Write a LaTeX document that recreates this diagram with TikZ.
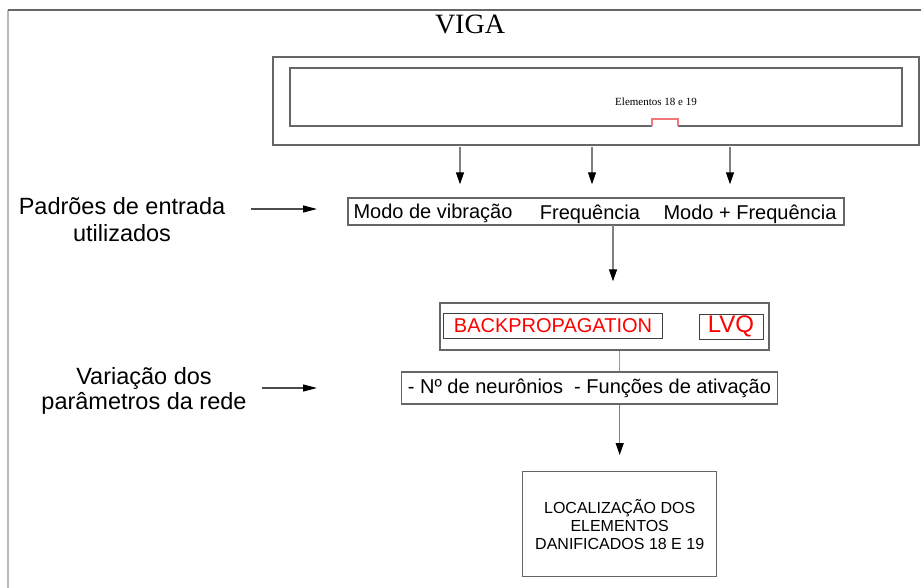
\documentclass[tikz,border=0pt]{standalone}
\usepackage{fontspec}
\setmainfont{Liberation Serif}
\setsansfont{Liberation Sans}
\usetikzlibrary{arrows.meta,positioning}
\definecolor{linegray}{HTML}{666666}
\definecolor{notchred}{HTML}{F07878}

\begin{document}
\begin{tikzpicture}[
  x=1pt, y=-1pt,
  box/.style={draw=linegray, line width=1.4pt, inner sep=0pt},
  inbox/.style={draw=black!75, line width=1pt, inner sep=0pt},
  txt/.style={font=\sffamily\fontsize{20}{22}\selectfont, inner sep=0pt},
  side/.style={font=\sffamily\fontsize{23.5}{26}\selectfont, align=center, inner sep=0pt},
  redtxt/.style={text=red, font=\sffamily\fontsize{20}{22}\selectfont},
  arr/.style={-{Triangle[length=12pt,width=8pt,black]}, draw=gray, line width=1.3pt},
  sarr/.style={-{Triangle[length=14pt,width=7pt,black]}, draw=black!70, line width=1.3pt},
  link/.style={draw=gray!80, line width=1.3pt}
]
\useasboundingbox (0,0) rectangle (921,588);

% outer frame
\draw[draw=gray!55, line width=2pt] (8,10) -- (8,588);
\draw[draw=black!60, line width=2pt] (8,10) -- (921,10);

\node[font=\fontsize{28}{30}\selectfont] (title) at (470,24) {VIGA};

% beam
\node[box, minimum width=646, minimum height=88] (beam) at (596,101) {};
\draw[box] (652,126) -| (290,68) -| (902,126) -- (678,126);
\draw[draw=notchred, line width=1.4pt] (652,126) |- (678,119) -- (678,126);
\node[font=\fontsize{11}{12}\selectfont, inner sep=0pt] (elem) at (656,102) {Elementos 18 e 19};

% input patterns
\node[box, minimum width=496, minimum height=27] (padroes) at (596,211.5) {};
\node[txt] (modo) at (433,213) {Modo de vibração};
\node[txt] (freq) at (590,214) {Frequência};
\node[txt] (ambos) at (750,214) {Modo + Frequência};
\node[side, font=\sffamily\fontsize{23.5}{27}\selectfont] (pad) at (122,220) {Padrões de entrada\\utilizados};

% networks
\node[box, minimum width=329, minimum height=47] (redes) at (604.5,326.5) {};
\node[inbox, redtxt, minimum width=219, minimum height=25] (bp) at (553,325.5) {BACKPROPAGATION};
\node[inbox, redtxt, font=\sffamily\fontsize{24}{26}\selectfont, minimum width=64, minimum height=25] (lvq) at (731,326.5) {LVQ};

\node[box, txt, minimum width=376, minimum height=32] (param) at (589.5,388) {- Nº de neurônios\ \ - Funções de ativação};
\node[side, font=\sffamily\fontsize{23.5}{25}\selectfont] (var) at (144,391) {Variação dos\\parâmetros da rede};

\node[box, align=center, font=\sffamily\fontsize{16}{18}\selectfont, minimum width=194, minimum height=105] (loc) at (619.7,524.2) {LOCALIZAÇÃO DOS\\ELEMENTOS\\DANIFICADOS 18 E 19};

% connectors
\coordinate (d1) at (460,147);
\coordinate (d2) at (592,147);
\coordinate (d3) at (730,147);
\draw[arr, shorten >=13pt] (d1) -- (d1 |- padroes.north);
\draw[arr, shorten >=13pt] (d2) -- (d2 |- padroes.north);
\draw[arr, shorten >=13pt] (d3) -- (d3 |- padroes.north);
\coordinate (m1) at (613,225);
\draw[arr, shorten >=21pt] (m1) -- (m1 |- redes.north);
\draw[link] (redes.south -| loc.north) -- (param.north -| loc.north);
\draw[arr, shorten >=16pt] (param.south -| loc.north) -- (loc.north);

\coordinate (p0) at (251,209);
\coordinate (p1) at (317,209);
\draw[sarr] (p0) -- (p1);
\coordinate (v0) at (262,388);
\coordinate (v1) at (317,388);
\draw[sarr] (v0) -- (v1);
\end{tikzpicture}
\end{document}
